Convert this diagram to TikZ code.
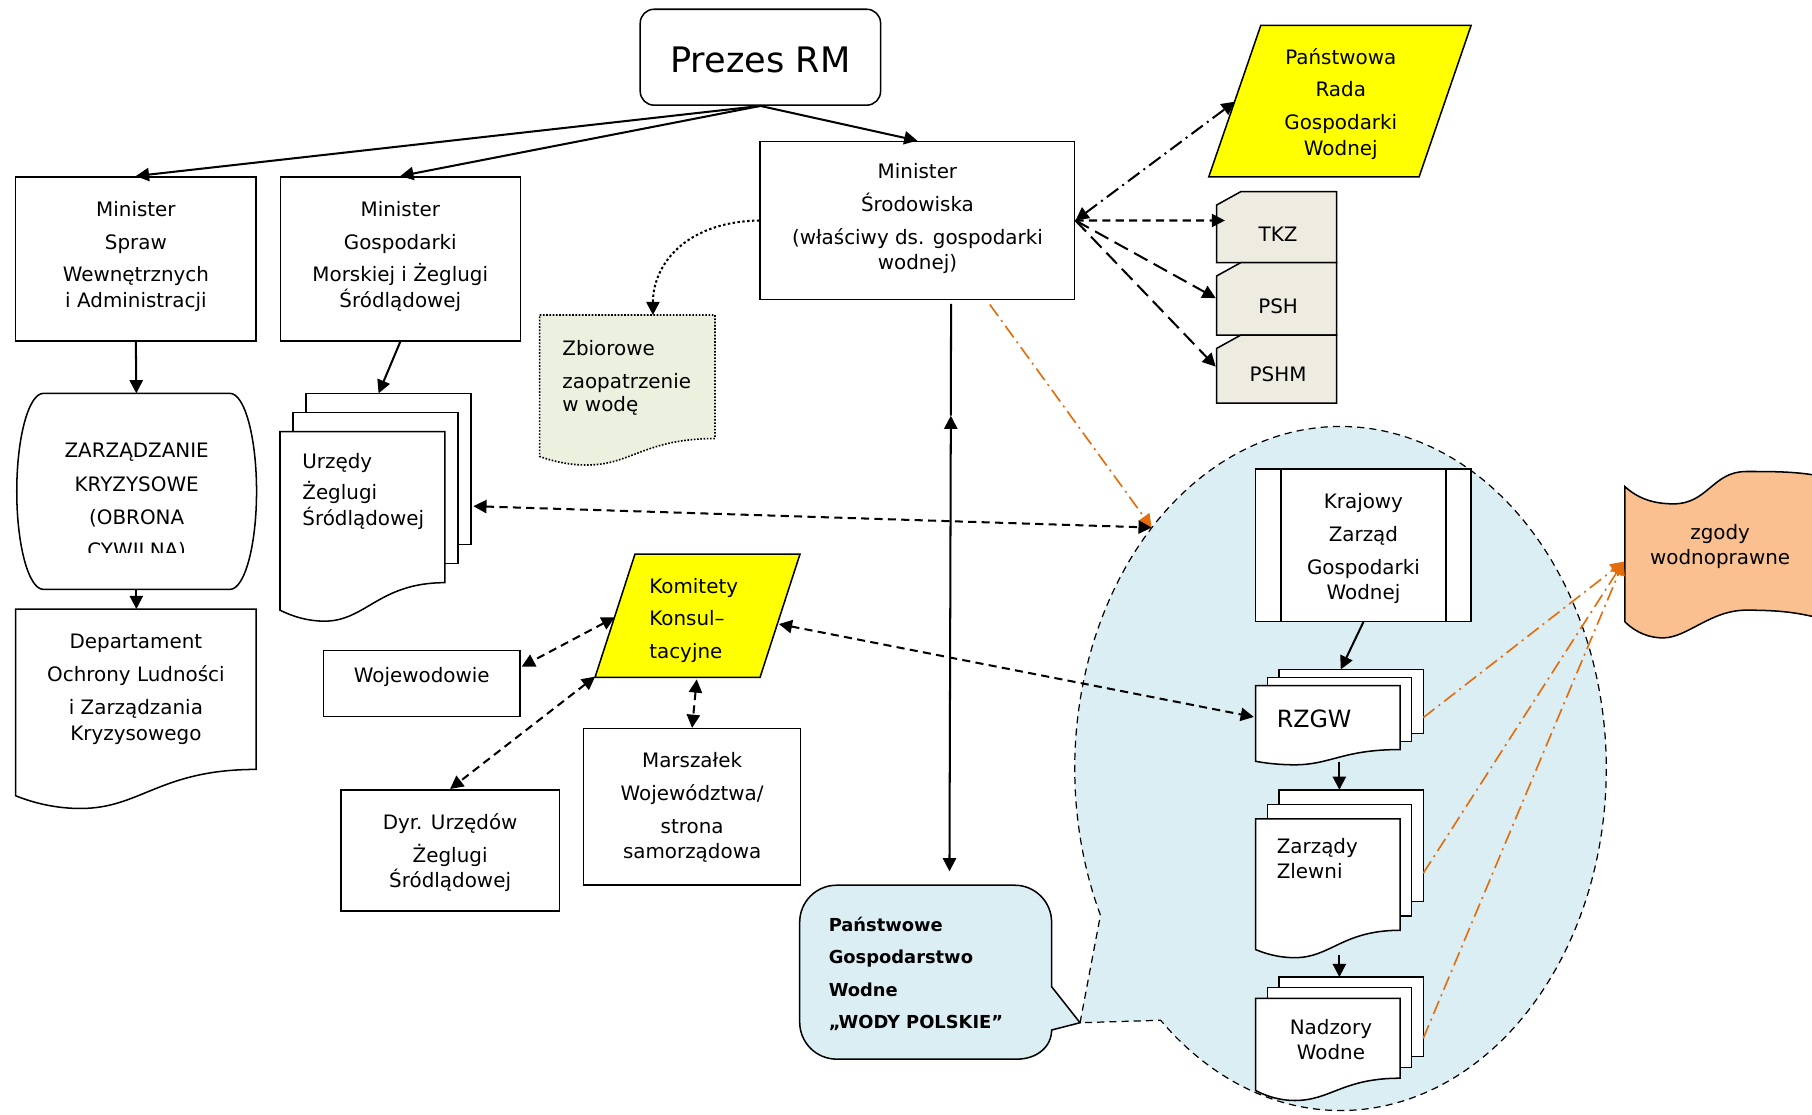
\documentclass[tikz,border=0pt]{standalone}
\usepackage{fontspec}
\setmainfont{DejaVu Sans}
\usetikzlibrary{arrows.meta,fit}

\definecolor{kkyellow}{HTML}{FFFF00}
\definecolor{cardgray}{HTML}{EEECE1}
\definecolor{palegreen}{HTML}{EBF1DE}
\definecolor{paleblue}{HTML}{DBEEF4}
\definecolor{paleorange}{HTML}{FAC090}
\definecolor{permorange}{HTML}{E46C0A}

\newcommand\fs{\fontsize{9.8pt}{12.5pt}\selectfont}

% x1, top, x2, right bottom, left bottom, depth
\newcommand\docshape[7][]{%
  \draw[#1] (#2,#3) -- (#4,#3) -- (#4,#5)
    .. controls ({#2+0.6*(#4-#2)},#5) and ({#2+0.52*(#4-#2)},#6+#7) .. ({#2+0.27*(#4-#2)},#6+#7)
    .. controls ({#2+0.17*(#4-#2)},#6+#7) and ({#2+0.08*(#4-#2)},#6+0.6*#7) .. (#2,#6) -- cycle;}

\newcommand\docstack[8]{%
  \draw[fill=white] (#1+2*#7,#2-2*#8) rectangle (#3+2*#7,#4-2*#8);
  \draw[fill=white] (#1+#7,#2-#8) rectangle (#3+#7,#4-#8);
  \docshape[fill=white]{#1}{#2}{#3}{#4}{#5}{#6}}

\tikzset{
  box/.style={draw, fill=white, inner sep=0pt},
  txt/.style={inner sep=0pt, align=center, anchor=base},
  ltxt/.style={inner sep=0pt, align=left, anchor=base west},
  link/.style={line width=1pt},
  dashlink/.style={link, dash pattern=on 4pt off 2.6pt},
  longdash/.style={link, dash pattern=on 7.5pt off 3.5pt},
  dashdot/.style={link, dash pattern=on 7pt off 2.5pt on 1pt off 2.5pt},
  orangelink/.style={line width=0.8pt, permorange, dash pattern=on 7pt off 2.5pt on 1pt off 2.5pt},
}

\begin{document}
\begin{tikzpicture}[x=0.02cm, y=-0.02cm, line width=0.75pt, font=\fs,
    >={Triangle[length=6.5pt,width=6.5pt]}]
\useasboundingbox (0,0) rectangle (1568,964);

\draw[fill=paleblue, line width=0.6pt, dash pattern=on 3.5pt off 2.5pt]
  plot[domain=154.6:492.6, samples=150, smooth] ({1160+230*cos(\x)},{665+296*sin(\x)})
  -- (934.6,885) -- cycle;

\node[box, rounded corners=0.24cm, fit={(554,8) (762,91)}] (prezes) {};
\node[txt, font=\fontsize{17.3pt}{20pt}\selectfont] (prezes-txt) at (658,63) {Prezes RM};

\node[box, fit={(13.5,153) (221.6,295)}] (mswia) {};
\node[txt] (mswia-txt) at (117.6,265.9)
  {Minister\\[3.7pt]Spraw\\[3.7pt]Wewnętrznych\\i Administracji};
\node[box, fit={(242.6,153) (450.2,295)}] (mgm) {};
\node[txt] (mgm-txt) at (346.4,265.9)
  {Minister\\[3.7pt]Gospodarki\\[3.7pt]Morskiej i Żeglugi\\Śródlądowej};
\node[box, fit={(657.7,122.4) (930,259.2)}] (ms) {};
\node[txt] (ms-txt) at (793.9,233.6)
  {Minister\\[3.7pt]Środowiska\\[3.7pt](właściwy ds. gospodarki\\wodnej)};

\draw[fill=kkyellow] (1091,22) -- (1273,22) -- (1228,153) -- (1046,153) -- cycle;
\node[txt] (prgw) at (1160.2,134.3)
  {Państwowa\\[3.7pt]Rada\\[3.7pt]Gospodarki\\Wodnej};

\draw[fill=cardgray] (1073.6,165.9) -- (1156.7,165.9) -- (1156.7,227.3) -- (1052.8,227.3) -- (1052.8,177.4) -- cycle;
\draw[fill=cardgray] (1073.6,227.3) -- (1156.7,227.3) -- (1156.7,290) -- (1052.8,290) -- (1052.8,238.8) -- cycle;
\draw[fill=cardgray] (1073.6,290) -- (1156.7,290) -- (1156.7,348.9) -- (1052.8,348.9) -- (1052.8,301.5) -- cycle;
\node (tkz) at (1106,202.3) {TKZ};
\node (psh) at (1106,265) {PSH};
\node (pshm) at (1106,323.8) {PSHM};

\docshape[fill=palegreen, line width=0.8pt, dash pattern=on 0.8pt off 0.8pt]{467}{272.6}{618.7}{379.5}{395}{7.4}
\node[ltxt] (zbior) at (486,356.2)
  {Zbiorowe\\[3.8pt]zaopatrzenie\\[-1pt]w wodę};

\draw[fill=white] (37.5,340.4) -- (199,340.4) .. controls (211.7,340.4) and (222,378.4) .. (222,425.2)
  .. controls (222,472) and (211.7,510) .. (199,510) -- (37.5,510)
  .. controls (24.8,510) and (14.5,472) .. (14.5,425.2)
  .. controls (14.5,378.4) and (24.8,340.4) .. (37.5,340.4) -- cycle;
\begin{scope}
  \clip (14,340) rectangle (222,478.3);
  \node[txt] (zk) at (118.3,482.2)
    {ZARZĄDZANIE\\[3.8pt]KRYZYSOWE\\[3.8pt](OBRONA\\[3.8pt]CYWILNA)};
\end{scope}

\docshape[fill=white]{13.5}{527}{221.6}{665.8}{688.6}{11}
\node[txt] (dep) at (117.6,640.4)
  {Departament\\[3.7pt]Ochrony Ludności\\[3.7pt]i Zarządzania\\Kryzysowego};

\docstack{242.3}{373.5}{385}{504.2}{528}{9.5}{11.25}{16.6}
\node[ltxt] (urz) at (261,454.3) {Urzędy\\[2.7pt]Żeglugi\\Śródlądowej};

\draw[fill=kkyellow] (549.5,479.4) -- (692.3,479.4) -- (657.7,586.1) -- (514.9,586.1) -- cycle;
\node[ltxt] (kk) at (561.2,569.6) {Komitety\\[3.4pt]Konsul--\\[3.4pt]tacyjne};

\node[box, fit={(279.8,563) (450,620.2)}] (woj) {};
\node[txt] (woj-txt) at (365,590.7) {Wojewodowie};
\node[box, fit={(295,683.4) (484,788.5)}] (dyr) {};
\node[txt] (dyr-txt) at (389.5,768) {Dyr. Urzędów\\[3.7pt]Żeglugi\\Śródlądowej};
\node[box, fit={(505,630.5) (692.8,766)}] (mar) {};
\node[txt] (mar-txt) at (598.9,743.3)
  {Marszałek\\[3.7pt]Województwa/\\[3.7pt]strona\\samorządowa};

\draw[fill=paleblue] (724,766) -- (878,766) .. controls (895.7,766) and (910,780.3) .. (910,798)
  -- (910,853.8) -- (934.6,885) -- (910,891.3) .. controls (910,906) and (897,916.5) .. (880,916.5)
  -- (724,916.5) .. controls (706.3,916.5) and (692,902.2) .. (692,884.5)
  -- (692,798) .. controls (692,780.3) and (706.3,766) .. (724,766) -- cycle;
\node[ltxt, font=\fontsize{8.8pt}{15.9pt}\selectfont\bfseries] (pgw) at (716.5,889.9)
  {Państwowe\\Gospodarstwo\\Wodne\\„WODY POLSKIE”};

\node[box, fit={(1086.6,405.8) (1273,537.6)}] (kzgw) {};
\node[txt] (kzgw-txt) at (1179.8,519)
  {Krajowy\\[3.7pt]Zarząd\\[3.7pt]Gospodarki\\Wodnej};
\draw ([xshift=0.45cm]kzgw.north west) -- ([xshift=0.45cm]kzgw.south west);
\draw ([xshift=-0.45cm]kzgw.north east) -- ([xshift=-0.45cm]kzgw.south east);

\docstack{1086.6}{593.3}{1211.6}{648.6}{658.8}{3}{10}{7}
\node[ltxt, font=\fontsize{11.7pt}{14pt}\selectfont] (rzgw) at (1104.2,629.6) {RZGW};
\docstack{1086.6}{708.5}{1211.6}{805}{821.7}{7}{10}{12.5}
\node[ltxt] (zz) at (1104.2,760.2) {Zarządy\\[-0.3pt]Zlewni};
\docstack{1086.6}{864}{1211.6}{933}{943.7}{8.6}{10}{9.3}
\node[txt] (nad) at (1151.7,917) {Nadzory\\Wodne};

\draw[fill=paleorange] (1406,421) .. controls (1418,432) and (1432,436) .. (1448,436)
  .. controls (1478,436) and (1482,408) .. (1511,408) .. controls (1535,408) and (1555,408) .. (1575,412)
  -- (1575,535) .. controls (1555,530) and (1540,528) .. (1511,528)
  .. controls (1480,528) and (1460,552) .. (1439,552) .. controls (1428,552) and (1416,548) .. (1406,538) -- cycle;
\node[txt] (zg) at (1488.5,488.9) {zgody\\wodnoprawne};

\coordinate (zk-n) at (118,340.4);
\coordinate (zk-s) at (118,510);
\coordinate (dep-n) at (118,527);
\coordinate (urz-n) at (327.6,340.4);
\coordinate (urz-e) at (409.6,438);
\coordinate (zbi-n) at (565,272.6);
\coordinate (prgw-w) at (1068.5,88);
\coordinate (tkz-w) at (1060,190.8);
\coordinate (psh-w) at (1052,258);
\coordinate (pshm-w) at (1052,317.3);
\coordinate (ms-v) at (823,263);
\coordinate (ms-up) at (822.8,359.7);
\coordinate (pgw-n) at (821.6,754);
\coordinate (ms-o) at (856.5,263.5);
\coordinate (ell-a) at (996.6,456.5);
\coordinate (kk-e) at (674,540);
\coordinate (kk-w) at (532,534.2);
\coordinate (kk-sw) at (515,585.5);
\coordinate (kk-s) at (602.9,587.9);
\coordinate (woj-e) at (451.4,576.9);
\coordinate (rzgw-w) at (1085,620.4);
\coordinate (rzgw-n) at (1160.2,579.2);
\coordinate (rzgw-s) at (1159,659);
\coordinate (zz-n) at (1159,683.4);
\coordinate (zz-s) at (1159,826);
\coordinate (nad-n) at (1159,845.5);
\coordinate (rzgw-e) at (1231.6,621);
\coordinate (zz-e) at (1231.6,755.6);
\coordinate (nad-e) at (1231.6,898.5);
\coordinate (zg-w) at (1405,486);

\draw[link,->] (prezes.south) -- (mswia.north);
\draw[link,->] (prezes.south) -- (mgm.north);
\draw[link,->] (prezes.south) -- (ms.north);
\draw[link,->] (mswia.south) -- (zk-n);
\draw[link,->] (zk-s) -- (dep-n);
\draw[link,->] (mgm.south) -- (urz-n);
\draw[link,dash pattern=on 1.2pt off 1.2pt,->] (ms.west) .. controls (592,192) and (565,230) .. (zbi-n);
\draw[dashdot,<->] (ms.east) -- (prgw-w);
\draw[dashlink,->] (ms.east) -- (tkz-w);
\draw[longdash,->] (ms.east) -- (psh-w);
\draw[longdash,->] (ms.east) -- (pshm-w);
\draw[link] (ms-v) -- (ms-up);
\draw[link,<->] (ms-up) -- (pgw-n);
\draw[orangelink,->] (ms-o) -- (ell-a);
\draw[dashlink,<->] (urz-e) -- (ell-a);
\draw[dashlink,<->] (kk-e) -- (rzgw-w);
\draw[dashlink,<->] (kk-w) -- (woj-e);
\draw[dashlink,<->] (kk-sw) -- (dyr.north);
\draw[dashlink,<->] (kk-s) -- (mar.north);
\draw[link,->] (kzgw.south) -- (rzgw-n);
\draw[link,->] (rzgw-s) -- (zz-n);
\draw[link,->] (zz-s) -- (nad-n);
\draw[orangelink,->] (rzgw-e) -- (zg-w);
\draw[orangelink,->] (zz-e) -- (zg-w);
\draw[orangelink,->] (nad-e) -- (zg-w);
\end{tikzpicture}
\end{document}
